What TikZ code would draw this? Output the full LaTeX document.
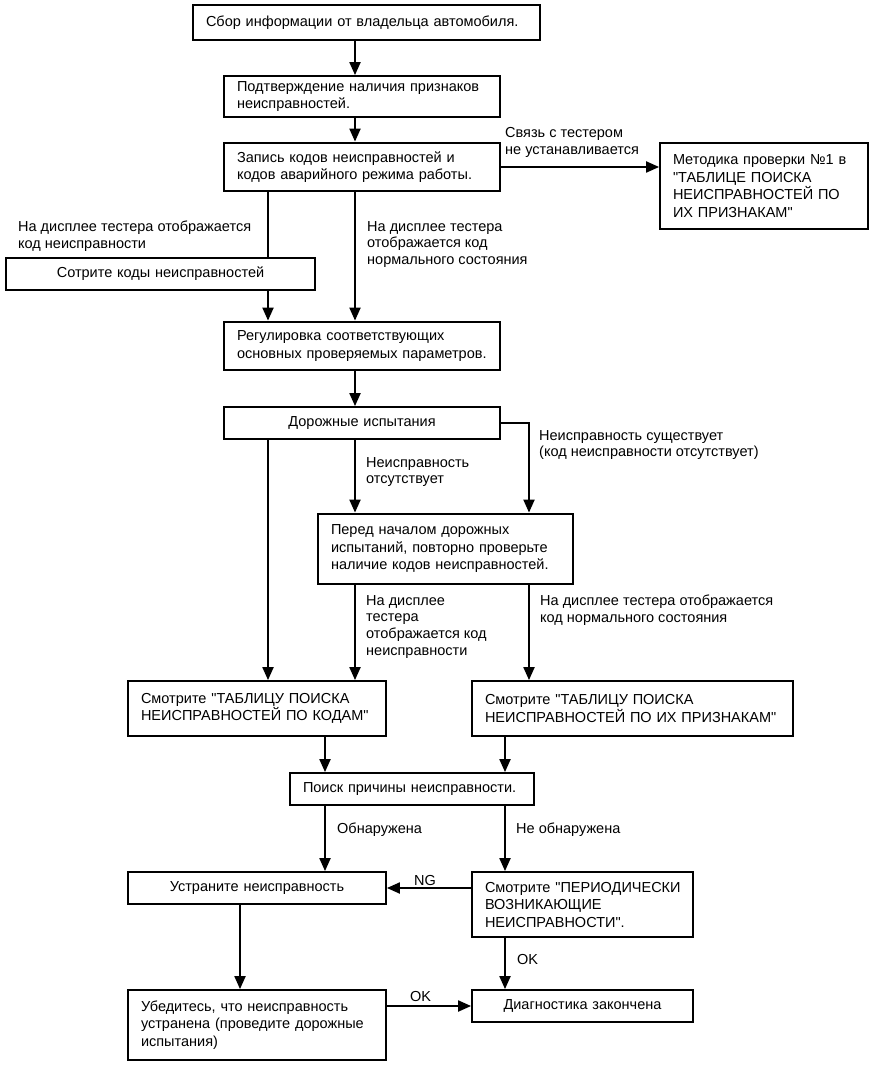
\documentclass[tikz,border=0pt]{standalone}
\usepackage{fontspec}
\setmainfont{Liberation Sans}[Ligatures=TeXOff]
\usetikzlibrary{arrows.meta}
\newcommand\ml[1]{\mbox{#1}}
\begin{document}
\begin{tikzpicture}[x=1pt,y=1pt,
  box/.style={draw, line width=1.8pt, rectangle, inner xsep=13pt, inner ysep=0pt, align=left,
              font=\fontsize{14.5}{17.5}\selectfont},
  thickbox/.style={box, line width=2.8pt},
  lbl/.style={inner sep=0pt, anchor=north west, align=left, font=\fontsize{14.5}{16.8}\selectfont},
  conn/.style={line width=2pt},
  arr/.style={conn, -{Triangle[width=11pt,length=13pt]}}]
\useasboundingbox (0,0) rectangle (885,-1067);
\newcommand\bx[7]{\node[#1, minimum width=#4pt, minimum height=#5pt, text width=#4pt-26pt, #6] (#2) at (#3) {#7};}
% boxes
\bx{thickbox}{b1}{366.5,-22.5}{347}{35}{}{\ml{Сбор информации от владельца автомобиля.}}
\bx{box}{b2}{362,-96.5}{276}{41}{}{\ml{Подтверждение наличия признаков}\\\ml{неисправностей.}}
\bx{thickbox}{b3}{362,-167}{276}{48}{}{\ml{Запись кодов неисправностей и}\\\ml{кодов аварийного режима работы.}}
\bx{box}{bm}{764,-186}{208}{86}{}{\ml{Методика проверки №1 в}\\\ml{"ТАБЛИЦЕ ПОИСКА}\\\ml{НЕИСПРАВНОСТЕЙ ПО}\\\ml{ИХ ПРИЗНАКАМ"}}
\bx{box}{bs}{160.5,-274}{309}{32}{align=center}{\ml{Сотрите коды неисправностей}}
\bx{thickbox}{br}{362,-346}{276}{48}{}{\ml{Регулировка соответствующих}\\\ml{основных проверяемых параметров.}}
\bx{box}{bd}{362,-423}{276}{32}{align=center}{\ml{Дорожные испытания}}
\bx{thickbox}{bp}{445.5,-549}{255}{70}{}{\ml{Перед началом дорожных}\\\ml{испытаний, повторно проверьте}\\\ml{наличие кодов неисправностей.}}
\bx{box}{bk}{257,-708.5}{258}{55}{}{\ml{Смотрите "ТАБЛИЦУ ПОИСКА}\\\ml{НЕИСПРАВНОСТЕЙ ПО КОДАМ"}}
\bx{box}{bz}{632.5,-708.5}{321}{55}{}{\ml{Смотрите "ТАБЛИЦУ ПОИСКА}\\\ml{НЕИСПРАВНОСТЕЙ ПО ИХ ПРИЗНАКАМ"}}
\bx{box}{bf}{412,-789}{244}{32}{}{\ml{Поиск причины неисправности.}}
\bx{box}{bu}{257,-888}{258}{32}{align=center}{\ml{Устраните неисправность}}
\bx{box}{bi}{582.5,-904.5}{221}{65}{}{\ml{Смотрите "ПЕРИОДИЧЕСКИ}\\\ml{ВОЗНИКАЮЩИЕ}\\\ml{НЕИСПРАВНОСТИ".}}
\bx{box}{bv}{257,-1025}{258}{70}{}{\ml{Убедитесь, что неисправность}\\\ml{устранена (проведите дорожные}\\\ml{испытания)}}
\bx{box}{bg}{582.5,-1006}{221}{32}{align=center}{\ml{Диагностика закончена}}
% column coordinates
\coordinate (xa) at (355,0);
\coordinate (xb) at (268,0);
\coordinate (xc) at (529,0);
\coordinate (xd) at (325,0);
\coordinate (xe) at (505,0);
\coordinate (xf) at (240,0);
\coordinate (tr) at (bd.east -| xc);
% connectors
\draw[arr] (b1.south -| xa) -- (b2.north -| xa);
\draw[arr] (b2.south -| xa) -- (b3.north -| xa);
\draw[arr] (b3.east) -- (bm.west |- b3.east);
\draw[conn] (b3.south -| xb) -- (bs.north -| xb);
\draw[arr] (bs.south -| xb) -- (br.north -| xb);
\draw[arr] (b3.south -| xa) -- (br.north -| xa);
\draw[arr] (br.south -| xa) -- (bd.north -| xa);
\draw[arr] (bd.east) -- (tr) -- (bp.north -| xc);
\draw[arr] (bd.south -| xa) -- (bp.north -| xa);
\draw[arr] (bd.south -| xb) -- (bk.north -| xb);
\draw[arr] (bp.south -| xa) -- (bk.north -| xa);
\draw[arr] (bp.south -| xc) -- (bz.north -| xc);
\draw[arr] (bk.south -| xd) -- (bf.north -| xd);
\draw[arr] (bz.south -| xe) -- (bf.north -| xe);
\draw[arr] (bf.south -| xd) -- (bu.north -| xd);
\draw[arr] (bf.south -| xe) -- (bi.north -| xe);
\draw[arr] (bi.west |- bu.east) -- (bu.east);
\draw[arr] (bu.south -| xf) -- (bv.north -| xf);
\draw[arr] (bi.south -| xe) -- (bg.north -| xe);
\draw[arr] (bv.east |- bg.west) -- (bg.west);
% labels
\node[lbl] (l1) at (505,-127) {Связь с тестером\\не устанавливается};
\node[lbl] (l2) at (18,-221) {На дисплее тестера отображается\\код неисправности};
\node[lbl] (l3) at (367,-221) {На дисплее тестера\\отображается код\\нормального состояния};
\node[lbl] (l4) at (539,-430) {Неисправность существует\\(код неисправности отсутствует)};
\node[lbl] (l5) at (366,-457) {Неисправность\\отсутствует};
\node[lbl] (l6) at (366,-595) {На дисплее\\тестера\\отображается код\\неисправности};
\node[lbl] (l7) at (540,-595) {На дисплее тестера отображается\\код нормального состояния};
\node[lbl] (l8) at (337,-823) {Обнаружена};
\node[lbl] (l9) at (516,-823) {Не обнаружена};
\node[lbl] (l10) at (414,-875) {NG};
\node[lbl] (l11) at (517,-954) {OK};
\node[lbl] (l12) at (410,-991) {OK};
\end{tikzpicture}
\end{document}
